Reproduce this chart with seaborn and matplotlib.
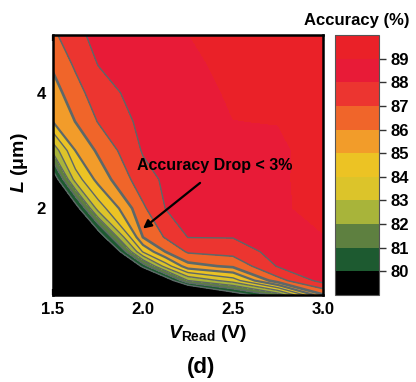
import numpy as np
import pandas as pd
import matplotlib
matplotlib.use("Agg")
import matplotlib.pyplot as plt
import seaborn as sns

# ---------------- data ----------------
v_read = [1.5, 1.625, 1.75, 2.0, 2.125, 2.25, 2.5, 2.75, 3.0]          # V
length_um = [0.5, 0.75, 1.0, 1.25, 1.5, 2.0, 2.5, 3.0, 3.5, 4.0, 4.5, 5.0]  # um

# accuracy (%) along L for each V_Read column
acc_v1500 = [60.0, 64.0, 67.0, 70.0, 72.0, 76.0, 79.0, 82.29, 85.02, 85.57, 86.17, 86.81]
acc_v1625 = [62.0, 66.0, 69.0, 72.0, 75.0, 79.3, 83.44, 85.02, 86.02, 86.6, 87.17, 87.69]
acc_v1750 = [66.0, 70.0, 73.0, 76.0, 78.9, 83.41, 85.33, 86.16, 87.04, 87.55, 88.03, 88.35]
acc_v2000 = [72.0, 76.0, 80.4, 84.11, 86.02, 86.83, 87.62, 88.09, 88.27, 88.45, 88.64, 88.82]
acc_v2125 = [73.0, 78.9, 83.43, 86.02, 87.09, 88.02, 88.16, 88.31, 88.47, 88.63, 88.78, 88.94]
acc_v2250 = [75.75, 82.0, 85.62, 87.14, 88.02, 88.16, 88.29, 88.43, 88.57, 88.71, 88.85, 88.99]
acc_v2500 = [79.1, 83.5, 86.21, 87.37, 88.04, 88.28, 88.52, 88.76, 88.99, 89.1, 89.2, 89.3]
acc_v2750 = [81.33, 86.63, 88.09, 88.42, 88.74, 88.9, 88.9, 88.85, 89.02, 89.2, 89.3, 89.4]
acc_v3000 = [85.9, 88.4, 88.6, 88.8, 88.97, 89.2, 89.25, 89.35, 89.45, 89.55, 89.65, 89.75]

levels = [80, 81, 82, 83, 84, 85, 86, 87, 88, 89]
cbar_ticks = [80, 81, 82, 83, 84, 85, 86, 87, 88, 89]
band_colors = ["#000000", "#1d5a30", "#5e8040", "#a8b43a", "#dcc42a",
               "#ecc324", "#f29c2a", "#f0652a", "#ec3530", "#e81b37", "#ea2128"]
line_levels = [80, 81, 82, 83, 84, 85, 86, 87, 88]
line_widths = [1.0, 1.0, 1.0, 1.0, 1.0, 1.6, 1.9, 1.1, 1.0]

# ---------------- tidy table ----------------
columns = [acc_v1500, acc_v1625, acc_v1750, acc_v2000, acc_v2125,
           acc_v2250, acc_v2500, acc_v2750, acc_v3000]
rows = []
for v, col in zip(v_read, columns):
    for l, a in zip(length_um, col):
        rows.append({"V": v, "L": l, "acc": a})
df = pd.DataFrame(rows)
grid = df.pivot(index="L", columns="V", values="acc")

# ---------------- style ----------------
sns.set_theme(style="ticks")
plt.rcParams["font.family"] = ["Liberation Sans", "DejaVu Sans"]
plt.rcParams["font.weight"] = "bold"
plt.rcParams["text.color"] = "black"
plt.rcParams["axes.labelcolor"] = "black"
plt.rcParams["xtick.color"] = "black"
plt.rcParams["ytick.color"] = "black"
plt.rcParams["mathtext.fontset"] = "custom"
plt.rcParams["mathtext.rm"] = "Liberation Sans:bold"
plt.rcParams["mathtext.bf"] = "Liberation Sans:bold"
plt.rcParams["mathtext.it"] = "Liberation Sans:italic:bold"

W, H = 416, 382
fig = plt.figure(figsize=(W / 100, H / 100), dpi=100)
fig.patch.set_facecolor("white")
ax = fig.add_axes([53 / W, 1 - 295 / H, 270 / W, 260 / H])

Vg, Lg = np.meshgrid(grid.columns.values, grid.index.values)
Z = grid.values
cf = ax.contourf(Vg, Lg, Z, levels=[0] + levels + [100], colors=band_colors)
ax.contour(Vg, Lg, Z, levels=line_levels, colors="#5d6868",
           linewidths=line_widths)

ax.set_xlim(1.5, 3.0)
ax.set_ylim(0.5, 5.0)
ax.set_xticks([1.5, 2.0, 2.5, 3.0])
ax.set_xticks([1.75, 2.25, 2.75], minor=True)
ax.set_yticks([2, 4])
ax.set_yticks([1, 3], minor=True)
ax.set_xticklabels(["1.5", "2.0", "2.5", "3.0"])
ax.tick_params(which="both", direction="in", top=True, right=True,
               width=1.6, color="black", labelcolor="black", labelsize=12, pad=5)
ax.tick_params(which="major", length=4)
ax.tick_params(which="minor", length=4)
for s in ax.spines.values():
    s.set_linewidth(1.8)
    s.set_color("black")
    s.set_zorder(5)

# annotation
ax.text(2.4, 2.74, "Accuracy Drop < 3%", ha="center", va="center",
        fontsize=11.5, fontweight="bold", color="black")
ax.annotate("", xy=(2.0, 1.65), xytext=(2.317, 2.44),
            arrowprops=dict(arrowstyle="-|>", color="black", lw=1.6,
                            mutation_scale=12, shrinkA=0, shrinkB=0))

# colorbar
cax = fig.add_axes([335 / W, 1 - 295 / H, 44 / W, 260 / H])
cb = fig.colorbar(cf, cax=cax, ticks=cbar_ticks)
cb.outline.set_linewidth(0.8)
cb.outline.set_edgecolor("#555555")
cax.tick_params(direction="out", length=5, width=1, labelsize=12, pad=3,
                color="#333333", labelcolor="black")

# labels
fig.text(410 / W, 1 - 20 / H, "Accuracy (%)", ha="right", va="center",
         fontsize=12, fontweight="bold", color="black")
fig.text(19 / W, 1 - 163 / H, r"$L$ (μm)", ha="center", va="center",
         rotation=90, fontsize=14, fontweight="bold", color="black")
fig.text(208 / W, 1 - 333 / H, r"$V_{\rm Read}$ (V)", ha="center",
         va="center", fontsize=14, fontweight="bold", color="black")
fig.text(201 / W, 1 - 367 / H, "(d)", ha="center", va="center",
         fontsize=16, fontweight="bold", color="black")

fig.savefig("out.png", dpi=100)
